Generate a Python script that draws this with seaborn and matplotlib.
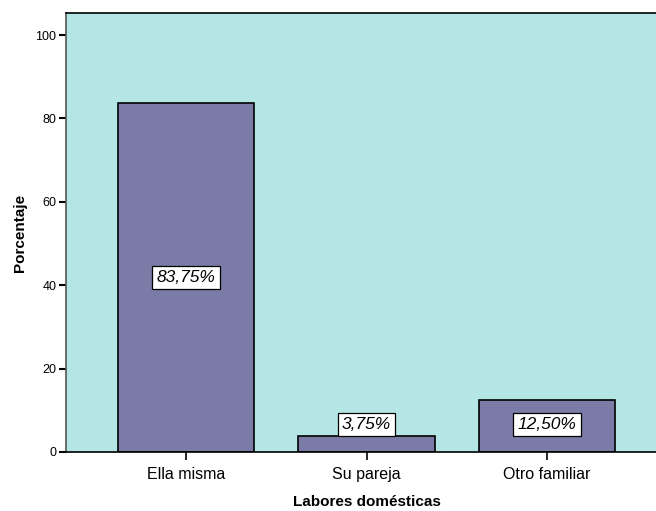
import matplotlib
matplotlib.use("Agg")
import matplotlib.pyplot as plt
import seaborn as sns
import pandas as pd

categories = ["Ella misma", "Su pareja", "Otro familiar"]
porcentajes = [83.75, 3.75, 12.50]
etiquetas = ["83,75%", "3,75%", "12,50%"]

df = pd.DataFrame({"Labores domésticas": categories, "Porcentaje": porcentajes})

sns.set_style("white")
plt.rcParams['font.family'] = ['Liberation Sans', 'DejaVu Sans']
plt.rcParams['text.color'] = 'black'
plt.rcParams['axes.labelcolor'] = 'black'
plt.rcParams['xtick.color'] = 'black'
plt.rcParams['ytick.color'] = 'black'

fig = plt.figure(figsize=(6.56, 5.11), dpi=100)
ax = fig.add_axes([66 / 656, 1 - 452 / 511, 601 / 656, 439 / 511])
ax.set_facecolor("#b4e6e6")

sns.barplot(data=df, x="Labores domésticas", y="Porcentaje", color="#7b7ba8",
            saturation=1, width=0.755, edgecolor="black", linewidth=1.2, ax=ax)

# value labels in white boxes
for i, (v, txt) in enumerate(zip(porcentajes, etiquetas)):
    ax.text(i, max(v / 2, 6.6), txt, ha="center", va="center", fontsize=12.5,
            style="italic",
            bbox=dict(boxstyle="square,pad=0.25", facecolor="white",
                      edgecolor="black", linewidth=0.9))

ax.set_xlim(-0.667, 2.667)
ax.set_ylim(0, 105.3)
ax.set_yticks([0, 20, 40, 60, 80, 100])
ax.tick_params(axis="y", left=True, length=5, width=1.5, labelsize=9, pad=2)
ax.tick_params(axis="x", bottom=True, length=6, width=1.2, labelsize=11.5, pad=5)

for side in ["left", "bottom", "top"]:
    ax.spines[side].set_visible(True)
    ax.spines[side].set_color("black")
    ax.spines[side].set_linewidth(1.2)
ax.spines["left"].set_color("#555555")
ax.spines["right"].set_visible(False)

ax.set_xlabel("Labores domésticas", fontsize=11, fontweight="bold", labelpad=9)
ax.set_ylabel("Porcentaje", fontsize=11, fontweight="bold", labelpad=6)

fig.savefig("out.png", dpi=100)
